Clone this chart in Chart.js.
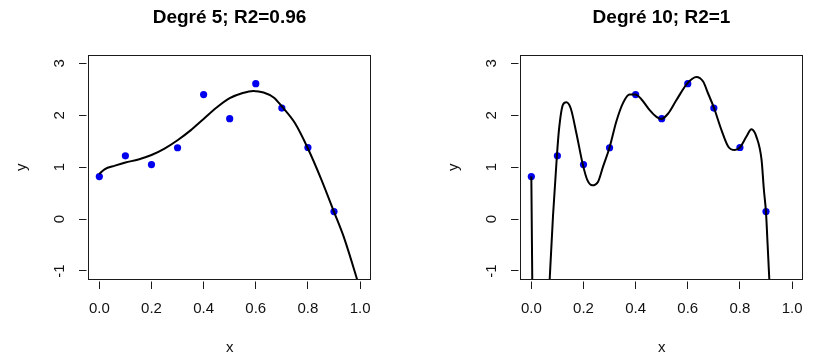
<!DOCTYPE html>
<html>
<head>
<meta charset="utf-8">
<script src="https://cdn.jsdelivr.net/npm/chart.js@4.4.1/dist/chart.umd.min.js"></script>
<style>
  html, body { margin: 0; padding: 0; background: #fff; overflow: hidden; }
  #wrap { position: relative; width: 813px; height: 356px; overflow: hidden; background: #fff; }
  canvas { position: absolute; top: 0; }
</style>
</head>
<body>
<div id="wrap">
  <canvas id="c1" width="459" height="356" style="left:0px"></canvas>
  <canvas id="c2" width="459" height="356" style="left:432px"></canvas>
</div>
<script>
// ---- data ----
const pointX = [0.0, 0.1, 0.2, 0.3, 0.4, 0.5, 0.6, 0.7, 0.8, 0.9];
const pointY = [0.82, 1.22, 1.05, 1.375, 2.40, 1.935, 2.61, 2.14, 1.38, 0.145];

// degree-5 fitted curve
const fit5X = [0.00, 0.02, 0.06, 0.10, 0.15, 0.20, 0.25, 0.30, 0.35, 0.40, 0.45, 0.50, 0.55, 0.59, 0.63, 0.67, 0.70, 0.75, 0.80, 0.85, 0.90, 0.94, 1.00];
const fit5Y = [0.87, 0.96, 1.03, 1.09, 1.15, 1.235, 1.36, 1.52, 1.71, 1.93, 2.15, 2.33, 2.43, 2.47, 2.44, 2.34, 2.17, 1.85, 1.36, 0.78, 0.14, -0.38, -1.35];

// degree-10 fitted curve (null = leaves the plot far below)
const fit10X = [0.000, 0.004, 0.036, 0.068, 0.083, 0.098, 0.106, 0.121, 0.134, 0.151, 0.173, 0.198, 0.215, 0.234, 0.256, 0.275, 0.300, 0.326, 0.351, 0.377, 0.399, 0.422, 0.454, 0.480, 0.499, 0.524, 0.556, 0.599, 0.633, 0.659, 0.678, 0.700, 0.729, 0.755, 0.780, 0.800, 0.825, 0.844, 0.863, 0.883, 0.892, 0.900, 0.906, 0.915];
const fit10Y = [0.82, -1.4, null, -1.4, 0.05, 1.215, 1.72, 2.20, 2.25, 2.135, 1.65, 1.04, 0.75, 0.65, 0.72, 1.01, 1.38, 1.88, 2.23, 2.40, 2.40, 2.31, 2.10, 1.97, 1.93, 2.03, 2.29, 2.62, 2.74, 2.65, 2.42, 2.15, 1.72, 1.40, 1.33, 1.38, 1.59, 1.73, 1.59, 1.14, 0.56, 0.13, -0.47, -1.4];

const xTicks = [0.0, 0.2, 0.4, 0.6, 0.8, 1.0];
const xTickLabels = ['0.0', '0.2', '0.4', '0.6', '0.8', '1.0'];
const yTicks = [-1, 0, 1, 2, 3];
const yTickLabels = ['-1', '0', '1', '2', '3'];
const titles = ['Degré 5; R2=0.96', 'Degré 10; R2=1'];
const xLabel = 'x';
const yLabel = 'y';

// ---- drawing ----
const FONT = "'Liberation Sans', Arial, Helvetica, sans-serif";
const CANVAS_H = 356;
const AREA_BOTTOM = 279.3;

const framePlugin = {
  id: 'rframe',
  afterDraw(chart) {
    const { ctx, chartArea: a, scales } = chart;
    const sx = scales.x, sy = scales.y;
    ctx.save();
    ctx.strokeStyle = '#1a1a1a';
    ctx.lineWidth = 1;
    const L = Math.round(a.left - 0.5) + 0.5, R = Math.round(a.right - 0.5) + 0.5;
    const T = Math.round(a.top - 0.5) + 0.5, B = Math.round(a.bottom - 0.5) + 0.5;
    ctx.strokeRect(L, T, R - L, B - T);
    ctx.beginPath();
    xTicks.forEach(v => {
      const px = Math.round(sx.getPixelForValue(v) - 0.5) + 0.5;
      ctx.moveTo(px, B + 2); ctx.lineTo(px, B + 9.5);
    });
    yTicks.forEach(v => {
      const py = Math.round(sy.getPixelForValue(v) - 0.5) + 0.5;
      ctx.moveTo(L - 2, py); ctx.lineTo(L - 9.5, py);
    });
    ctx.stroke();
    ctx.restore();
  }
};

function makeChart(id, title, cx, cy) {
  const curve = cx.map((x, i) => ({ x: x, y: cy[i] }));
  const pts = pointX.map((x, i) => ({ x: x, y: pointY[i] }));
  return new Chart(document.getElementById(id), {
    type: 'line',
    data: {
      datasets: [
        {
          type: 'scatter',
          data: pts,
          pointRadius: 3.6,
          pointHoverRadius: 3.6,
          pointBackgroundColor: '#0000EE',
          pointBorderWidth: 0,
          borderWidth: 0,
          showLine: false,
          order: 2
        },
        {
          type: 'line',
          data: curve,
          borderColor: '#000000',
          borderWidth: 2,
          pointRadius: 0,
          fill: false,
          spanGaps: false,
          cubicInterpolationMode: 'monotone',
          order: 1
        }
      ]
    },
    options: {
      responsive: false,
      animation: false,
      events: [],
      layout: { padding: 0 },
      plugins: {
        legend: { display: false },
        tooltip: { enabled: false },
        title: {
          display: true,
          text: title,
          color: '#000',
          font: { family: FONT, size: 19, weight: 'bold', lineHeight: 1.2 },
          padding: { top: 6, bottom: 26.3 }
        }
      },
      scales: {
        x: {
          type: 'linear',
          position: 'bottom',
          min: -0.04,
          max: 1.04,
          afterBuildTicks: s => { s.ticks = xTicks.map(v => ({ value: v })); },
          afterFit: s => { s.height = CANVAS_H - AREA_BOTTOM; },
          grid: { display: false, drawTicks: false },
          border: { display: false },
          ticks: {
            callback: (v, i) => xTickLabels[i],
            color: '#111',
            font: { family: FONT, size: 15, lineHeight: 1.2 },
            padding: 20.7,
            maxRotation: 0,
            minRotation: 0,
            autoSkip: false
          },
          title: {
            display: true,
            text: xLabel,
            color: '#111',
            font: { family: FONT, size: 15, lineHeight: 1 },
            padding: { top: 0, bottom: 0.8 }
          }
        },
        y: {
          type: 'linear',
          position: 'left',
          min: -1.16,
          max: 3.16,
          afterBuildTicks: s => { s.ticks = yTicks.map(v => ({ value: v })); },
          afterFit: s => { s.width = 88.9; },
          grid: { display: false, drawTicks: false },
          border: { display: false },
          ticks: {
            callback: (v, i) => yTickLabels[i],
            color: '#111',
            font: { family: FONT, size: 15, lineHeight: 1.2 },
            padding: 22.5,
            minRotation: 90,
            maxRotation: 90,
            crossAlign: 'center',
            autoSkip: false
          },
          title: {
            display: true,
            text: yLabel,
            color: '#111',
            font: { family: FONT, size: 15, lineHeight: 1 },
            padding: { top: 14.5, bottom: 0 }
          }
        },
        yr: {
          type: 'linear',
          position: 'right',
          display: true,
          afterFit: s => { s.width = 88.5; },
          grid: { display: false, drawTicks: false },
          border: { display: false },
          ticks: { display: false }
        }
      }
    },
    plugins: [framePlugin]
  });
}

makeChart('c1', titles[0], fit5X, fit5Y);
makeChart('c2', titles[1], fit10X, fit10Y);
</script>
</body>
</html>
